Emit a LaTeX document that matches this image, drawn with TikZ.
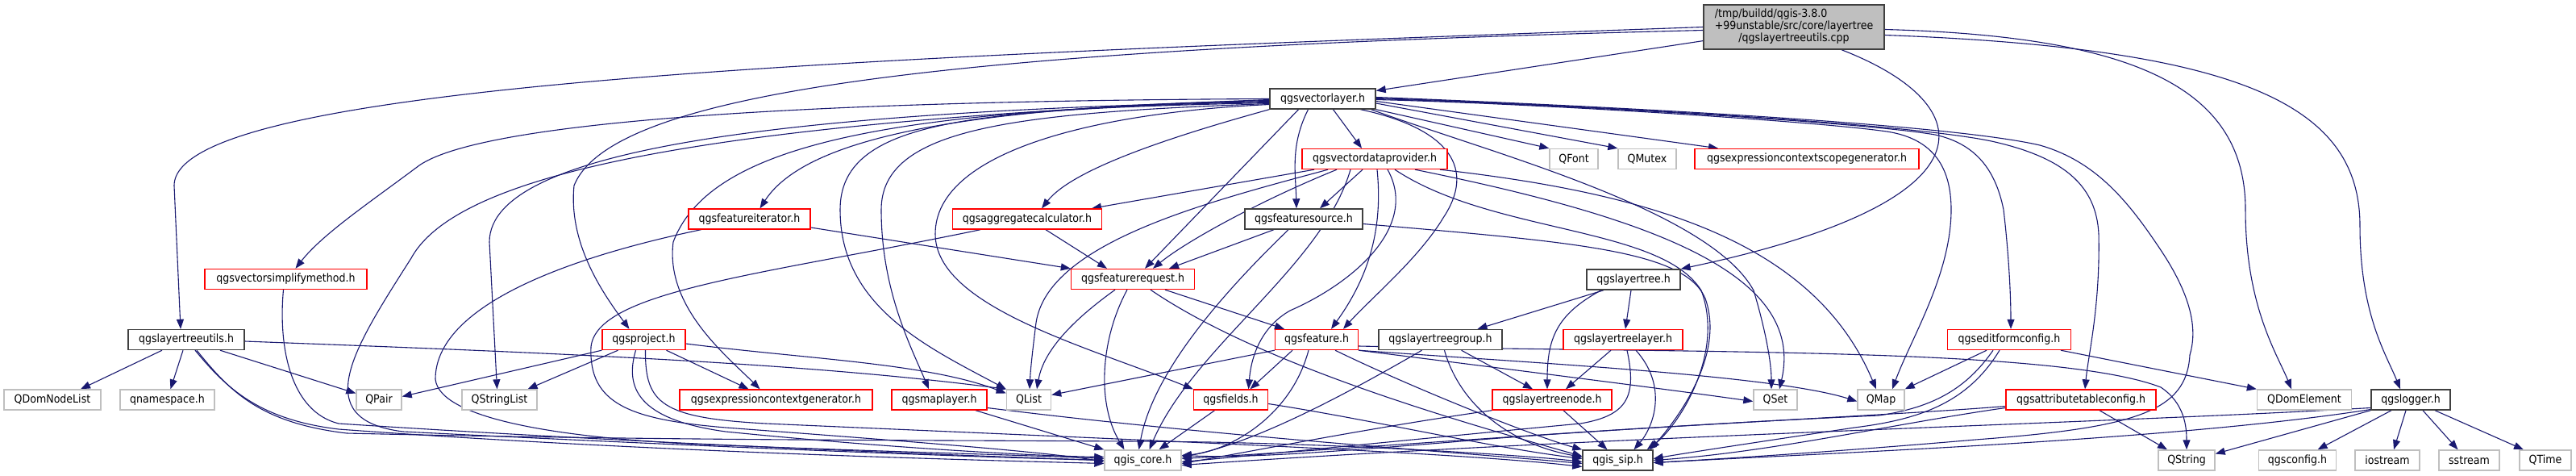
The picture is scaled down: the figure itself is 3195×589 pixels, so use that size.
\documentclass[tikz,border=0pt]{standalone}
\usepackage{fontspec}
\setmainfont{DejaVu Sans}[FakeStretch=0.9]
\usetikzlibrary{arrows.meta}
\definecolor{edgecol}{HTML}{191970}
\definecolor{redb}{HTML}{FF0000}
\definecolor{greyb}{HTML}{BFBFBF}
\definecolor{darkb}{HTML}{404040}
\definecolor{rootfill}{HTML}{BFBFBF}
\pgfdeclarelayer{bg}
\pgfdeclarelayer{paper}
\pgfsetlayers{paper,bg,main}
\tikzset{
  box/.style={rectangle, line width=1.4pt, minimum height=25pt, inner sep=0pt, fill=white, text=black, font=\fontsize{14}{15}\selectfont},
  rb/.style={box, draw=redb},
  kb/.style={box, draw=darkb},
  gb/.style={box, draw=greyb},
  e/.style={draw=edgecol, line width=1.1pt, -{Triangle[length=12pt,width=9pt]}}
}
\begin{document}
\begin{tikzpicture}[x=1pt,y=-1pt]
\useasboundingbox (0,0) rectangle (3195,589);
\begin{pgfonlayer}{paper}
\fill[white] (0,0) rectangle (3195,589);
\end{pgfonlayer}
% nodes
\node[kb, fill=rootfill, minimum width=224pt, minimum height=55pt] (root) at (2225,33.5)
  {\begin{tabular}{@{}l@{}}/tmp/buildd/qgis-3.8.0\\+99unstable/src/core/layertree\\\multicolumn{1}{@{}c@{}}{/qgslayertreeutils.cpp}\end{tabular}};
\node[kb, minimum width=131pt] (vl) at (1640.5,122.5) {qgsvectorlayer.h};
\node[rb, minimum width=180pt] (vdp) at (1705,197) {qgsvectordataprovider.h};
\node[gb, minimum width=60pt] (qfont) at (1952,197) {QFont};
\node[gb, minimum width=72pt] (qmutex) at (2043,197) {QMutex};
\node[rb, minimum width=278pt] (ecsg) at (2241,197) {qgsexpressioncontextscopegenerator.h};
\node[rb, minimum width=151pt] (fi) at (929.5,271.5) {qgsfeatureiterator.h};
\node[rb, minimum width=185pt] (agg) at (1274,271.5) {qgsaggregatecalculator.h};
\node[kb, minimum width=146pt] (fs) at (1617,271.5) {qgsfeaturesource.h};
\node[rb, minimum width=201pt] (vsm) at (354.5,346) {qgsvectorsimplifymethod.h};
\node[rb, minimum width=153pt] (fr) at (1405,346) {qgsfeaturerequest.h};
\node[kb, minimum width=116pt] (lt) at (2026,346.5) {qgslayertree.h};
\node[kb, minimum width=144pt] (ltu) at (231,421) {qgslayertreeutils.h};
\node[rb, minimum width=103pt] (proj) at (798.5,421) {qgsproject.h};
\node[rb, minimum width=103pt] (feat) at (1633,421) {qgsfeature.h};
\node[kb, minimum width=153pt] (ltg) at (1786.5,421) {qgslayertreegroup.h};
\node[rb, minimum width=148pt] (ltl) at (2013,421) {qgslayertreelayer.h};
\node[rb, minimum width=153pt] (efc) at (2492,421) {qgseditformconfig.h};
\node[gb, minimum width=120pt] (qdnl) at (65,495.5) {QDomNodeList};
\node[gb, minimum width=117pt] (qns) at (207.5,495.5) {qnamespace.h};
\node[gb, minimum width=56pt] (qpair) at (470,495.5) {QPair};
\node[gb, minimum width=93pt] (qsl) at (619.5,495.5) {QStringList};
\node[rb, minimum width=239pt] (ecg) at (962.5,495.5) {qgsexpressioncontextgenerator.h};
\node[rb, minimum width=118pt] (ml) at (1165,495.5) {qgsmaplayer.h};
\node[gb, minimum width=55pt] (qlist) at (1276,495.5) {QList};
\node[rb, minimum width=92pt] (fields) at (1526.5,495.5) {qgsfields.h};
\node[rb, minimum width=148pt] (ltn) at (1925,495.5) {qgslayertreenode.h};
\node[gb, minimum width=54pt] (qset) at (2202,495.5) {QSet};
\node[gb, minimum width=58pt] (qmap) at (2333,495.5) {QMap};
\node[rb, minimum width=186pt] (atc) at (2581,495.5) {qgsattributetableconfig.h};
\node[gb, minimum width=117pt] (qde) at (2858,495.5) {QDomElement};
\node[kb, minimum width=98pt] (logger) at (2990,495.5) {qgslogger.h};
\node[gb, minimum width=95pt] (core) at (1417.5,570.5) {qgis\_core.h};
\node[kb, minimum width=87pt] (sip) at (2006.5,570.5) {qgis\_sip.h};
\node[gb, minimum width=70pt] (qstring) at (2712,570.5) {QString};
\node[gb, minimum width=96pt] (qcfg) at (2849.5,570.5) {qgsconfig.h};
\node[gb, minimum width=80pt] (iostr) at (2961,570.5) {iostream};
\node[gb, minimum width=75pt] (sstr) at (3062.5,570.5) {sstream};
\node[gb, minimum width=64pt] (qtime) at (3157,570.5) {QTime};
\begin{pgfonlayer}{bg}
% root
\draw[e] (root) -- (vl);
\draw[e] (root.west) .. controls (1100,70) and (216,100) .. (216,230) -- ([xshift=-7pt]ltu.north);
\draw[e] ([yshift=-4pt]root.west) .. controls (1200,60) and (760,110) .. (712,230) .. controls (705,300) and (745,360) .. ([xshift=-18pt]proj.north);
\draw[e] ([xshift=59pt]root.south) .. controls (2460,130) and (2480,250) .. (lt.north east);
\draw[e] ([yshift=-3pt]root.east) .. controls (2650,45) and (2785,110) .. (2785,260) .. controls (2785,380) and (2825,440) .. ([xshift=-16pt]qde.north);
\draw[e] ([yshift=-10pt]root.east) .. controls (2780,60) and (2927,130) .. (2927,280) .. controls (2927,390) and (2960,440) .. ([xshift=-13pt]logger.north);
% vl
\draw[e] (vl.west) .. controls (1000,125) and (600,150) .. (520,205) .. controls (460,250) and (400,290) .. ([xshift=12pt]vsm.north);
\draw[e] ([yshift=-3pt]vl.west) .. controls (1000,138) and (607,180) .. (607,300) -- ([xshift=-3pt]qsl.north);
\draw[e] ([yshift=-1pt]vl.west) .. controls (900,150) and (570,210) .. (510,320) .. controls (440,430) and (380,520) .. (500,535) .. controls (800,550) and (1150,565) .. (core.west);
\draw[e] ([yshift=-4pt]vl.west) .. controls (1100,135) and (880,180) .. (835,300) .. controls (825,380) and (900,440) .. ([xshift=-20pt]ecg.north);
\draw[e] ([yshift=-5pt]vl.west) .. controls (1200,135) and (1042,150) .. (1042,260) .. controls (1042,380) and (1150,430) .. (qlist.north west);
\draw[e] ([yshift=-6pt]vl.west) .. controls (1250,140) and (1093,160) .. (1093,260) .. controls (1093,360) and (1130,430) .. ([xshift=-13pt]ml.north);
\draw[e] ([yshift=-7pt]vl.west) .. controls (1350,140) and (1160,190) .. (1160,290) .. controls (1160,380) and (1350,430) .. (fields.north west);
\draw[e] ([yshift=-2pt]vl.west) .. controls (1200,132) and (1000,170) .. ([xshift=13pt]fi.north);
\draw[e] (vl.south west) .. controls (1450,170) and (1330,210) .. ([xshift=18pt]agg.north);
\draw[e] ([xshift=-30pt]vl.south) -- ([xshift=15pt]fr.north);
\draw[e] ([xshift=-18pt]vl.south) .. controls (1600,180) and (1607,215) .. ([xshift=-9pt]fs.north);
\draw[e] ([xshift=13pt]vl.south) -- ([xshift=-16pt]vdp.north);
\draw[e] ([xshift=47pt]vl.south) .. controls (1800,160) and (1830,210) .. (1790,270) .. controls (1760,320) and (1700,370) .. ([xshift=33pt]feat.north);
\draw[e] (vl.south east) -- (qfont.north west);
\draw[e] ([yshift=-5.5pt]vl.east) -- (qmutex.north west);
\draw[e] ([yshift=-3pt]vl.east) -- ([xshift=-110pt]ecsg.north);
\draw[e] ([xshift=60pt]vl.south) .. controls (1850,190) and (2120,260) .. (2175,360) .. controls (2190,410) and (2197,450) .. ([xshift=-5pt]qset.north);
\draw[e] ([yshift=-1pt]vl.east) .. controls (1900,128) and (2250,150) .. (2340,163) .. controls (2400,172) and (2420,210) .. (2420,260) .. controls (2420,340) and (2370,420) .. ([xshift=14pt]qmap.north);
\draw[e] (vl.east) .. controls (1900,128) and (2300,150) .. (2400,167) .. controls (2450,178) and (2475,210) .. (2485,260) .. controls (2492,320) and (2494,370) .. ([xshift=2pt]efc.north);
\draw[e] ([yshift=1pt]vl.east) .. controls (1900,128) and (2350,150) .. (2470,175) .. controls (2560,195) and (2600,230) .. (2603,290) .. controls (2605,380) and (2590,440) .. ([xshift=5pt]atc.north);
\draw[e] ([yshift=2pt]vl.east) .. controls (1900,128) and (2400,150) .. (2530,180) .. controls (2600,200) and (2640,250) .. (2680,310) .. controls (2720,370) and (2725,410) .. (2716,440) .. controls (2712,510) and (2650,530) .. (2450,545) .. controls (2300,558) and (2150,568) .. ([yshift=-3pt]sip.east);
% vdp
\draw[e] ([xshift=-75pt]vdp.south) -- ([xshift=80pt]agg.north);
\draw[e] ([xshift=-15pt]vdp.south) -- ([xshift=20pt]fs.north);
\draw[e] ([xshift=-47pt]vdp.south) .. controls (1560,250) and (1470,300) .. ([xshift=25pt]fr.north);
\draw[e] ([xshift=-58pt]vdp.south) .. controls (1500,250) and (1300,300) .. (1285,400) .. controls (1280,440) and (1278,460) .. ([xshift=1pt]qlist.north);
\draw[e] ([xshift=3pt]vdp.south) .. controls (1715,280) and (1700,340) .. ([xshift=18pt]feat.north);
\draw[e] ([xshift=16pt]vdp.south) .. controls (1760,280) and (1680,350) .. (1600,385) .. controls (1565,405) and (1552,440) .. ([xshift=22pt]fields.north);
\draw[e] ([xshift=-30pt]vdp.south) .. controls (1640,330) and (1480,430) .. ([xshift=8pt]core.north);
\draw[e] ([xshift=25pt]vdp.south) .. controls (1850,290) and (2060,280) .. (2110,360) .. controls (2140,440) and (2080,530) .. ([xshift=-8pt]sip.north east);
\draw[e] ([xshift=50pt]vdp.south) .. controls (2050,270) and (2240,340) .. ([xshift=5pt]qset.north);
\draw[e] ([xshift=81pt]vdp.south) .. controls (2050,240) and (2250,300) .. ([xshift=-6pt]qmap.north);
% fi, agg, fs
\draw[e] ([yshift=-10.5pt]fi.east) -- (fr.north west);
\draw[e] ([xshift=-60pt]fi.south) .. controls (700,320) and (540,380) .. (540,470) .. controls (545,520) and (700,545) .. (900,552) .. controls (1100,560) and (1300,565) .. ([yshift=2pt]core.west);
\draw[e] ([xshift=23pt]agg.south) -- ([xshift=-32pt]fr.north);
\draw[e] ([xshift=-58pt]agg.south) .. controls (950,340) and (740,360) .. (733,430) .. controls (730,500) and (780,520) .. (900,530) .. controls (1100,545) and (1300,560) .. ([yshift=-2pt]core.west);
\draw[e] ([xshift=-37pt]fs.south) -- ([xshift=45pt]fr.north);
\draw[e] ([xshift=-19pt]fs.south) .. controls (1520,360) and (1430,460) .. ([xshift=-5pt]core.north);
\draw[e] ([yshift=-6pt]fs.east) .. controls (1950,300) and (2090,310) .. (2115,370) .. controls (2140,440) and (2080,520) .. ([xshift=-4pt]sip.north east);
% fr
\draw[e] ([xshift=40pt]fr.south) -- ([xshift=-40pt]feat.north);
\draw[e] ([xshift=-22pt]fr.south) .. controls (1340,390) and (1295,430) .. ([xshift=10pt]qlist.north);
\draw[e] ([xshift=-7pt]fr.south) .. controls (1365,420) and (1360,500) .. ([xshift=-23pt]core.north);
\draw[e] ([xshift=22pt]fr.south) .. controls (1560,450) and (1800,520) .. ([yshift=5pt]sip.west);
% feat
\draw[e] (feat.south west) -- ([yshift=6pt]qlist.east);
\draw[e] ([xshift=-30pt]feat.south) -- ([xshift=24pt]fields.north);
\draw[e] ([xshift=-10pt]feat.south) .. controls (1600,520) and (1520,560) .. ([yshift=6pt]core.east);
\draw[e] (feat.south east) .. controls (1850,455) and (2050,480) .. ([yshift=-2pt]qset.west);
\draw[e] (feat.south east) .. controls (1900,450) and (2200,465) .. ([yshift=-2pt]qmap.west);
\draw[e] ([yshift=-8pt]feat.east) .. controls (2100,438) and (2550,430) .. (2680,480) .. controls (2710,500) and (2712,530) .. (qstring.north);
\draw[e] ([xshift=23pt]feat.south) .. controls (1750,480) and (1900,540) .. (sip.north west);
% fields, ml
\draw[e] ([xshift=-20pt]fields.south) -- ([xshift=20pt]core.north);
\draw[e] ([yshift=-5pt]fields.east) .. controls (1700,520) and (1850,555) .. ([yshift=2pt]sip.west);
\draw[e] ([xshift=45pt]ml.south) -- (core.north west);
\draw[e] ([yshift=-10pt]ml.east) .. controls (1500,540) and (1800,560) .. ([yshift=-4pt]sip.west);
% proj
\draw[e] (proj.south west) -- ([yshift=4pt]qpair.east);
\draw[e] ([xshift=-32pt]proj.south) -- ([xshift=35pt]qsl.north);
\draw[e] ([xshift=28pt]proj.south) -- ([xshift=-34pt]ecg.north);
\draw[e] ([yshift=-5pt]proj.east) .. controls (1000,445) and (1150,450) .. ([yshift=8pt]qlist.west);
\draw[e] ([xshift=-10pt]proj.south) .. controls (775,480) and (790,520) .. (900,535) .. controls (1100,555) and (1280,565) .. ([yshift=4pt]core.west);
\draw[e] ([xshift=2pt]proj.south) .. controls (800,500) and (820,518) .. (950,525) .. controls (1400,545) and (1800,560) .. ([yshift=-8pt]sip.west);
% ltu
\draw[e] ([xshift=-30pt]ltu.south) -- ([xshift=35pt]qdnl.north);
\draw[e] ([xshift=-4pt]ltu.south) -- ([xshift=4pt]qns.north);
\draw[e] ([xshift=42pt]ltu.south) -- ([yshift=8pt]qpair.west);
\draw[e] ([yshift=-2pt]ltu.east) .. controls (700,438) and (1000,450) .. (qlist.north west);
\draw[e] ([xshift=11pt]ltu.south) .. controls (280,480) and (320,520) .. (420,532) .. controls (800,560) and (1200,570) .. ([yshift=-4pt]core.west);
\draw[e] ([xshift=13pt]ltu.south) .. controls (285,485) and (322,524) .. (430,537) .. controls (900,548) and (1300,545) .. (1500,548) .. controls (1700,552) and (1900,565) .. ([yshift=-2pt]sip.west);
% vsm
\draw[e] ([xshift=-3pt]vsm.south) .. controls (345,430) and (360,510) .. (420,525) .. controls (800,550) and (1200,565) .. (core.west);
% layer tree
\draw[e] ([xshift=-37pt]lt.south) -- ([xshift=46pt]ltg.north);
\draw[e] ([xshift=-3pt]lt.south) -- ([xshift=3pt]ltl.north);
\draw[e] ([xshift=-40pt]lt.south) .. controls (1930,390) and (1919,420) .. ([xshift=-6pt]ltn.north);
\draw[e] ([xshift=26pt]ltg.south) -- ([xshift=-24pt]ltn.north);
\draw[e] ([xshift=-23pt]ltg.south) .. controls (1650,500) and (1550,550) .. ([yshift=4pt]core.east);
\draw[e] ([xshift=5pt]ltg.south) .. controls (1810,500) and (1870,550) .. ([yshift=4pt]sip.west);
\draw[e] ([xshift=-15pt]ltl.south) -- ([xshift=17pt]ltn.north);
\draw[e] ([xshift=5pt]ltl.south) .. controls (2030,490) and (2020,515) .. (1960,525) .. controls (1800,540) and (1550,565) .. ([yshift=-2pt]core.east);
\draw[e] ([xshift=16pt]ltl.south) .. controls (2070,480) and (2050,530) .. ([xshift=20pt]sip.north);
\draw[e] (ltn.south west) .. controls (1700,530) and (1550,560) .. ([yshift=-4pt]core.east);
\draw[e] ([xshift=14pt]ltn.south) -- ([xshift=-13pt]sip.north);
% efc, atc
\draw[e] ([xshift=-28pt]efc.south) -- (qmap.north east);
\draw[e] ([xshift=64pt]efc.south) -- (qde.north west);
\draw[e] ([xshift=-20pt]efc.south) .. controls (2440,480) and (2400,505) .. (2330,515) .. controls (2000,530) and (1700,555) .. ([yshift=2pt]core.east);
\draw[e] ([xshift=-12pt]efc.south) .. controls (2440,500) and (2380,520) .. (2300,530) .. controls (2200,545) and (2100,560) .. ([yshift=2pt]sip.east);
\draw[e] ([xshift=23pt]atc.south) -- ([xshift=-24pt]qstring.north);
\draw[e] ([yshift=-8pt]atc.west) .. controls (2350,515) and (2000,530) .. (1800,548) .. controls (1650,560) and (1550,568) .. ([yshift=6pt]core.east);
\draw[e] ([yshift=-10pt]atc.west) .. controls (2350,525) and (2200,560) .. (sip.east);
% logger
\draw[e] (logger.south west) -- ([yshift=8pt]qstring.east);
\draw[e] ([xshift=-24pt]logger.south) -- ([xshift=25pt]qcfg.north);
\draw[e] ([xshift=-6pt]logger.south) -- ([xshift=8pt]iostr.north);
\draw[e] ([xshift=15pt]logger.south) -- ([xshift=-14pt]sstr.north);
\draw[e] ([xshift=30pt]logger.south) -- ([xshift=-27pt]qtime.north);
\draw[e] ([yshift=-10pt]logger.west) .. controls (2600,525) and (2000,540) .. ([yshift=-6pt]core.east);
\draw[e] ([yshift=-12pt]logger.west) .. controls (2700,545) and (2300,560) .. ([yshift=-3pt]sip.east);
\end{pgfonlayer}
\end{tikzpicture}
\end{document}
